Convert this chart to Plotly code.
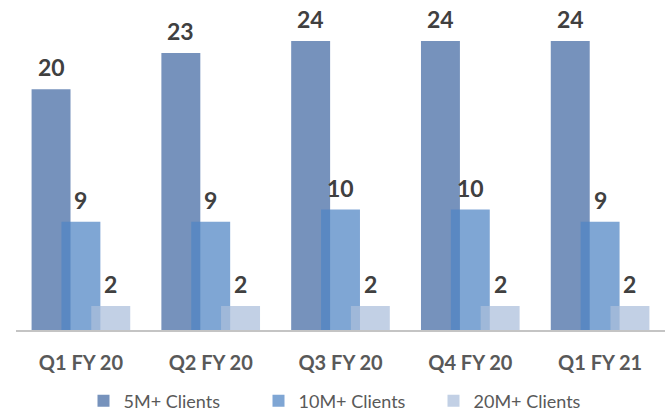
import plotly.graph_objects as go

quarters = ["Q1 FY 20", "Q2 FY 20", "Q3 FY 20", "Q4 FY 20", "Q1 FY 21"]
clients_5m = [20, 23, 24, 24, 24]
clients_10m = [9, 9, 10, 10, 9]
clients_20m = [2, 2, 2, 2, 2]

series = [
    ("5M+ Clients", clients_5m, "rgb(118,146,188)", -0.23),
    ("10M+ Clients", clients_10m, "rgba(80,133,196,0.73)", 0.0),
    ("20M+ Clients", clients_20m, "rgba(172,190,219,0.73)", 0.23),
]

bar_w = 0.30
xs = list(range(len(quarters)))

fig = go.Figure()
annotations = []
for name, vals, color, shift in series:
    fig.add_trace(go.Bar(
        x=xs, y=vals, name=name,
        width=bar_w, offset=shift - bar_w / 2,
        marker=dict(color=color, line=dict(width=0)),
    ))
    for x, v in zip(xs, vals):
        annotations.append(dict(
            x=x + shift, y=v, text=f"<b>{v}</b>", showarrow=False,
            xanchor="center", yanchor="bottom", yshift=6,
            font=dict(family="Lato", size=23, color="#404040"),
        ))

fig.update_layout(
    width=672, height=412,
    margin=dict(l=16, r=7, t=17, b=82, autoexpand=False),
    barmode="overlay",
    plot_bgcolor="white", paper_bgcolor="white",
    annotations=annotations,
    showlegend=True,
    legend=dict(
        orientation="h",
        xref="container", x=0.5 + 10 / 672, xanchor="center",
        yref="container", y=1 - 401 / 412, yanchor="middle",
        bgcolor="rgba(0,0,0,0)",
        font=dict(family="Lato", size=18, color="#595959"),
        itemwidth=30, entrywidth=130, traceorder="normal",
    ),
    xaxis=dict(
        tickmode="array", tickvals=xs,
        ticktext=[f"<b>{q}</b>" for q in quarters],
        range=[-0.5, len(quarters) - 0.5],
        showline=True, linecolor="#c4c4c4", linewidth=2,
        showgrid=False, zeroline=False, ticks="",
        ticklabelstandoff=14,
        tickfont=dict(family="Lato", size=20, color="#595959"),
    ),
    yaxis=dict(
        range=[0, 26], visible=False, showgrid=False, zeroline=False,
    ),
)

fig.write_html("out.html")
